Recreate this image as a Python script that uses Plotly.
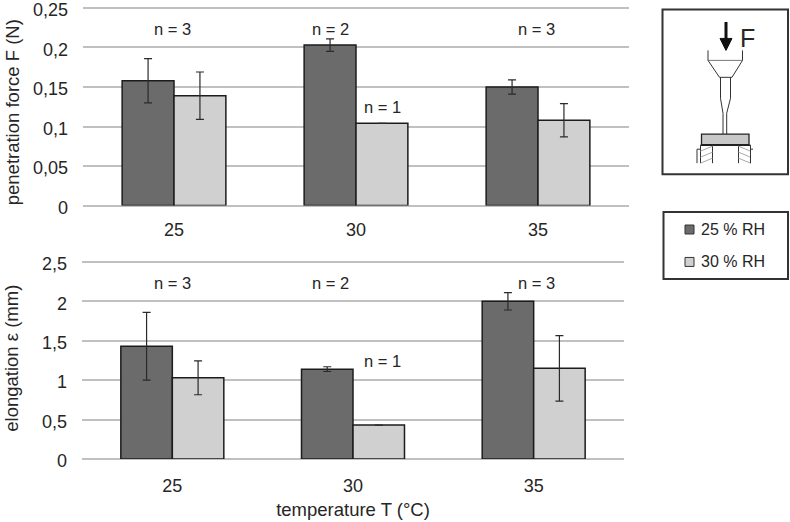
import plotly.graph_objects as go

# ---------- data ----------
temperatures = ["25", "30", "35"]
series_names = ["25 % RH", "30 % RH"]

force_25 = [0.158, 0.203, 0.150]
force_30 = [0.139, 0.104, 0.108]
force_err_25 = [0.028, 0.008, 0.009]
force_err_30 = [0.030, 0.0, 0.021]

elong_25 = [1.43, 1.14, 2.00]
elong_30 = [1.03, 0.43, 1.15]
elong_err_25 = [0.43, 0.03, 0.11]
elong_err_30 = [0.215, 0.0, 0.415]

force_n = ["n = 3", "n = 2", "n = 1", "n = 3"]
elong_n = ["n = 3", "n = 2", "n = 1", "n = 3"]

force_ticks = [0, 0.05, 0.1, 0.15, 0.2, 0.25]
force_ticktext = ["0", "0,05", "0,1", "0,15", "0,2", "0,25"]
elong_ticks = [0, 0.5, 1, 1.5, 2, 2.5]
elong_ticktext = ["0", "0,5", "1", "1,5", "2", "2,5"]

# ---------- style / layout ----------
W, H = 790, 522
L, R, T, B = 82, 629, 5.5, 459.5
DARK, LIGHT = "#6b6b6b", "#d0d0d0"
TXT = "#262626"
GRID = "#c0c0c0"
EDGE = "#1c1c1c"
FONT = "Liberation Sans, Arial, sans-serif"


def px(x):
    return (x - L) / (R - L)


def py(y):
    return (B - y) / (B - T)


def add_bars(vals_a, vals_b, err_a, err_b, xa, ya):
    for name, vals, err, col in ((series_names[0], vals_a, err_a, DARK),
                                 (series_names[1], vals_b, err_b, LIGHT)):
        fig.add_trace(go.Bar(
            x=temperatures, y=vals, name=name, xaxis=xa, yaxis=ya,
            marker=dict(color=col, line=dict(color=EDGE, width=1.5)),
            error_y=dict(type="data", array=err, visible=True,
                         color="#2a2a2a", thickness=1.2, width=4),
            showlegend=False,
        ))


fig = go.Figure()
add_bars(force_25, force_30, force_err_25, force_err_30, "x", "y")
add_bars(elong_25, elong_30, elong_err_25, elong_err_30, "x2", "y2")

shapes, annots = [], []


def line(x0, y0, x1, y1, color="#333333", width=1):
    shapes.append(dict(type="line", xref="paper", yref="paper", x0=px(x0), y0=py(y0),
                       x1=px(x1), y1=py(y1), line=dict(color=color, width=width)))


def rect(x0, y0, x1, y1, fill="rgba(0,0,0,0)", color="#333333", width=1):
    shapes.append(dict(type="rect", xref="paper", yref="paper", x0=px(x0), y0=py(y0),
                       x1=px(x1), y1=py(y1), fillcolor=fill, line=dict(color=color, width=width)))


def poly(points, fill=None, color="#333333", width=1):
    path = "M " + " L ".join(f"{px(x):.5f} {py(y):.5f}" for x, y in points)
    shapes.append(dict(type="path", xref="paper", yref="paper", path=path + (" Z" if fill else ""),
                       fillcolor=fill or "rgba(0,0,0,0)", line=dict(color=color, width=width)))


def text(s, x, y, size=16.5, angle=0, anchor="center"):
    annots.append(dict(text=s, xref="paper", yref="paper", x=px(x), y=py(y), showarrow=False,
                       xanchor=anchor, yanchor="middle", textangle=angle,
                       font=dict(size=size, color=TXT, family=FONT)))


# sample-size labels
for s, x, y in zip(force_n, (172, 330, 382, 536), (29, 29, 107, 29)):
    text(s, x, y)
for s, x, y in zip(elong_n, (172, 330, 382, 536), (283.5, 283.5, 361, 283.5)):
    text(s, x, y)

# axis titles on the value axes
text("penetration force F (N)", 12, 112, size=18.5, angle=-90)
text("elongation ε (mm)", 12, 359, size=18.5, angle=-90)

# inset diagram
rect(662.5, 9, 788, 174, color="#333333", width=2)
F_COL = "#111111"
rect(724.5, 21.5, 727.5, 40, fill=F_COL, color=F_COL, width=0)
poly([(720, 38), (732, 38), (726, 50)], fill=F_COL, color=F_COL)
text("F", 747, 38, size=25)
line(708, 50, 708, 60)
line(742.5, 50, 742.5, 60)
line(708, 60, 742.5, 60, color="#777777")
poly([(708, 60), (719.5, 77), (732, 77), (742.5, 60)])
poly([(720.5, 77), (720.5, 98), (723, 113), (723, 134)])
poly([(730.5, 77), (730.5, 98), (726.7, 113), (726.7, 134)])
rect(701.5, 134, 749, 144.5, fill="#c8c8c8", color="#222222", width=1.3)
line(700.5, 145, 750.5, 145, color="#222222", width=1.5)
for x_in, x_out in ((700.5, 712.5), (750.5, 738.5)):
    line(x_in, 145, x_in, 163)
    line(x_out, 145, x_out, 163)
    for y0 in (146, 152, 158):
        line(x_in, y0 + 5, x_out, y0, color="#aaaaaa")
for x0, x1 in ((697, 700), (750.5, 753)):
    line(x0, 149, x0, 163)
    line(x0, 149, x1, 149)

# legend box
rect(663.5, 212, 788, 279, color="#333333", width=2)
for name, col, yc in zip(series_names, (DARK, LIGHT), (229.5, 262)):
    rect(685, yc - 4.5, 694, yc + 4.5, fill=col, color="#333333", width=1)
    text(name, 699, yc, size=16, anchor="left")

fig.update_layout(
    width=W, height=H, autosize=False,
    margin=dict(l=L, r=W - R, t=T, b=H - B, pad=0),
    paper_bgcolor="white", plot_bgcolor="white",
    barmode="group", bargap=0.43, bargroupgap=0,
    font=dict(family=FONT, size=18, color=TXT),
    shapes=shapes, annotations=annots,
    xaxis=dict(domain=[px(83), 1], type="category", anchor="y", showgrid=False, automargin=False,
               showline=False, ticks="outside", ticklen=8, tickcolor="rgba(0,0,0,0)",
               tickfont=dict(size=18)),
    yaxis=dict(domain=[py(205.5), 1], anchor="x", range=[0, 0.2525], tickvals=force_ticks,
               ticktext=force_ticktext, showgrid=True, gridcolor=GRID, gridwidth=1.5,
               zeroline=True, zerolinecolor=GRID, zerolinewidth=2, showline=False, automargin=False,
               ticks="", ticklabelstandoff=14, ticklabeloverflow="allow", ticklabelshift=2),
    xaxis2=dict(domain=[px(82), px(624)], type="category", anchor="y2", showgrid=False, automargin=False,
                showline=False, ticks="outside", ticklen=10, tickcolor="rgba(0,0,0,0)",
                tickfont=dict(size=18),
                title=dict(text="temperature T (°C)", font=dict(size=18.5), standoff=8)),
    yaxis2=dict(domain=[0, py(260)], anchor="x2", range=[0, 2.525], tickvals=elong_ticks,
                ticktext=elong_ticktext, showgrid=True, gridcolor=GRID, gridwidth=1.5,
                zeroline=True, zerolinecolor=GRID, zerolinewidth=2, showline=False, automargin=False,
                ticks="", ticklabelstandoff=14, ticklabeloverflow="allow", ticklabelshift=2),
)

fig.write_html("out.html", config=dict(displayModeBar=False),
               post_script="document.body.style.margin='0';")
